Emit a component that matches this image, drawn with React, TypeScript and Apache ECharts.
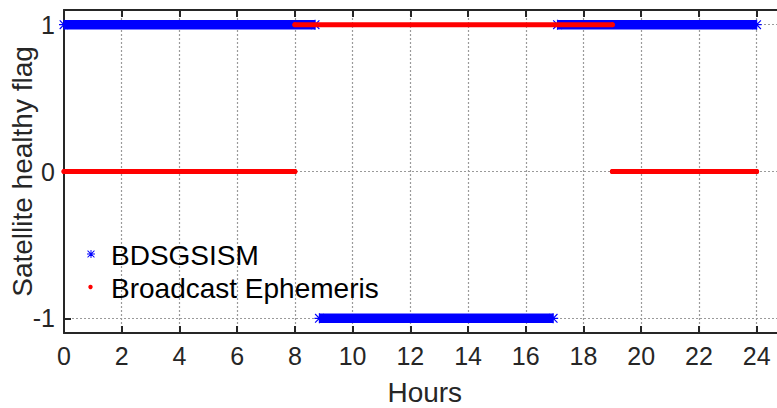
import React, { useEffect, useRef } from "react";
import * as echarts from "echarts";

// Health-flag intervals (hours of day) for each source: start, end, flag value
const bdsStart = [0, 8.85, 17.1];
const bdsEnd = [8.7, 16.95, 24];
const bdsFlag = [1, -1, 1];

const ephStart = [0, 8, 19];
const ephEnd = [8, 19, 24];
const ephFlag = [0, 1, 0];

const seriesNames = ["BDSGSISM", "Broadcast Ephemeris"];

const FONT = "'Liberation Sans', Arial, Helvetica, sans-serif";
const AXIS_COLOR = "#262626";

// Asterisk marker built from four bars (filled, same winding), 10x10 box
const ASTERISK_D =
  "M0 4.4H10V5.6H0Z M4.4 0H5.6V10H4.4Z M1.1 0.3L9.7 8.9L8.9 9.7L0.3 1.1Z M8.9 0.3L9.7 1.1L1.1 9.7L0.3 8.9Z";
const ASTERISK = "path://" + ASTERISK_D;

echarts.graphic.registerShape("asterisk", echarts.graphic.extendPath(ASTERISK_D, {}) as any);

function toSegments(starts: number[], ends: number[], flags: number[]) {
  const out: any[] = [];
  starts.forEach((s, i) => {
    out.push([s, flags[i]]);
    out.push([ends[i], flags[i]]);
    if (i < starts.length - 1) out.push([ends[i], "-"]);
  });
  return out;
}

export default function App() {
  const ref = useRef<HTMLDivElement>(null);

  useEffect(() => {
    if (!ref.current) return;
    const chart = echarts.init(ref.current, undefined, { renderer: "svg" });

    const xRange = { min: 0, max: 25, interval: 2 };
    const legendText = { fontFamily: FONT, fontSize: 28, fill: "#000000", verticalAlign: "middle" };

    chart.setOption({
      animation: false,
      backgroundColor: "#ffffff",
      grid: {
        left: 64,
        top: 10,
        width: 721.5,
        height: 323,
        containLabel: false,
        outerBoundsMode: "none",
      },
      graphic: [
        {
          type: "asterisk",
          x: 87,
          y: 250,
          scaleX: 0.8,
          scaleY: 0.8,
          silent: true,
          z: 10,
          style: { fill: "#0000ff" },
        },
        {
          type: "circle",
          shape: { cx: 90.5, cy: 287, r: 2.2 },
          silent: true,
          z: 10,
          style: { fill: "#ff0000" },
        },
        {
          type: "text",
          x: 111,
          y: 255,
          silent: true,
          z: 10,
          style: { ...legendText, text: seriesNames[0] },
        },
        {
          type: "text",
          x: 111,
          y: 288,
          silent: true,
          z: 10,
          style: { ...legendText, text: seriesNames[1] },
        },
      ],
      xAxis: [
        {
          type: "value",
          position: "bottom",
          ...xRange,
          name: "Hours",
          nameLocation: "middle",
          nameGap: 45,
          nameMoveOverlap: false,
          nameTextStyle: { fontFamily: FONT, fontSize: 28, color: AXIS_COLOR },
          axisLine: { show: true, onZero: false, lineStyle: { color: AXIS_COLOR, width: 2 } },
          axisTick: { show: true, inside: true, length: 7, lineStyle: { color: AXIS_COLOR, width: 2 } },
          axisLabel: {
            margin: 10,
            fontFamily: FONT,
            fontSize: 25,
            color: AXIS_COLOR,
            showMaxLabel: false,
          },
          splitLine: {
            show: true,
            showMinLine: false,
            lineStyle: { color: "#9a9a9a", width: 1.2, type: [2, 2] },
          },
        },
        {
          type: "value",
          position: "top",
          ...xRange,
          z: 3,
          axisLine: { show: true, onZero: false, lineStyle: { color: AXIS_COLOR, width: 2 } },
          axisTick: { show: true, inside: true, length: 7, lineStyle: { color: AXIS_COLOR, width: 2 } },
          axisLabel: { show: false },
          splitLine: { show: false },
        },
      ],
      yAxis: {
        type: "value",
        min: -1.1,
        max: 1.1,
        minInterval: 1,
        maxInterval: 1,
        splitNumber: 2,
        name: "Satellite healthy flag",
        nameLocation: "middle",
        nameGap: 28,
        nameMoveOverlap: false,
        nameTextStyle: { fontFamily: FONT, fontSize: 28, color: AXIS_COLOR },
        axisLine: { show: true, onZero: false, lineStyle: { color: AXIS_COLOR, width: 2 } },
        axisTick: { show: true, inside: true, length: 7, lineStyle: { color: AXIS_COLOR, width: 2 } },
        axisLabel: {
          margin: 9,
          fontFamily: FONT,
          fontSize: 25,
          color: AXIS_COLOR,
          showMinLabel: false,
          showMaxLabel: false,
          formatter: (v: number) =>
            Number.isInteger(Math.round(v * 1000) / 1000) ? String(Math.round(v)) : "",
        },
        splitLine: {
          show: true,
          showMinLine: false,
          showMaxLine: false,
          lineStyle: { color: "#9a9a9a", width: 1.2, type: [2, 2] },
        },
      },
      series: [
        {
          name: seriesNames[0],
          type: "line",
          xAxisIndex: 0,
          data: toSegments(bdsStart, bdsEnd, bdsFlag),
          showSymbol: true,
          symbol: ASTERISK,
          symbolSize: 10,
          itemStyle: { color: "#0000ff", borderWidth: 0 },
          lineStyle: { color: "#0000ff", width: 9.5, cap: "butt" },
          connectNulls: false,
          silent: true,
          emphasis: { disabled: true },
          z: 2,
        },
        {
          name: seriesNames[1],
          type: "line",
          xAxisIndex: 0,
          data: toSegments(ephStart, ephEnd, ephFlag),
          showSymbol: true,
          symbol: "circle",
          symbolSize: 5,
          itemStyle: { color: "#ff0000", borderWidth: 0 },
          lineStyle: { color: "#ff0000", width: 5, cap: "round" },
          connectNulls: false,
          silent: true,
          emphasis: { disabled: true },
          z: 3,
        },
      ],
    });

    return () => chart.dispose();
  }, []);

  return (
    <div
      ref={ref}
      style={{ position: "fixed", left: 0, top: 0, width: 777, height: 408, background: "#fff" }}
    />
  );
}
